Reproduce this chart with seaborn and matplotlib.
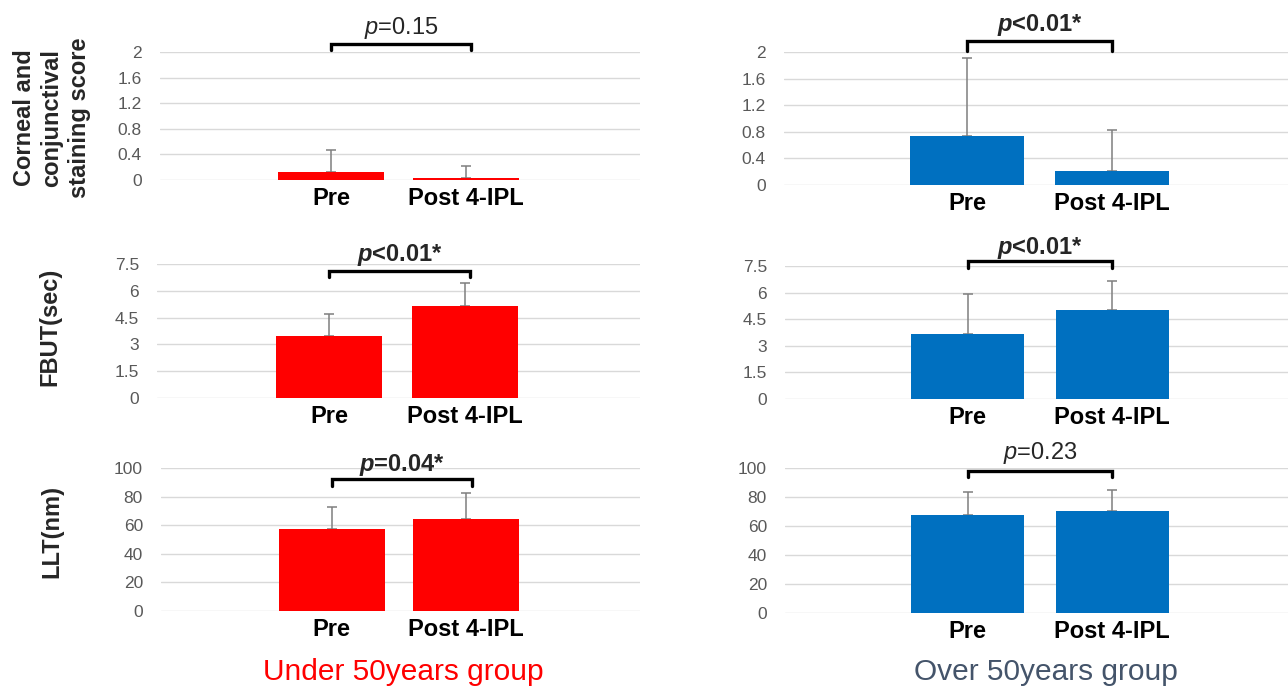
import matplotlib
matplotlib.use("Agg")
import matplotlib.pyplot as plt
import matplotlib.transforms as mtransforms
import seaborn as sns
import pandas as pd

# ---- data -------------------------------------------------------------
conditions = ["Pre", "Post 4-IPL"]
groups = ["Under 50years group", "Over 50years group"]
measures = ["Corneal and\nconjunctival\nstaining score", "FBUT(sec)", "LLT(nm)"]

staining_under = [0.13, 0.03]
staining_under_sd = [0.34, 0.19]
staining_over = [0.74, 0.21]
staining_over_sd = [1.17, 0.62]

fbut_under = [3.47, 5.15]
fbut_under_sd = [1.23, 1.28]
fbut_over = [3.67, 5.02]
fbut_over_sd = [2.25, 1.64]

llt_under = [57.3, 64.3]
llt_under_sd = [15.4, 18.2]
llt_over = [67.6, 70.3]
llt_over_sd = [15.8, 14.5]

p_labels = [["p=0.15", "p<0.01*"],
            ["p<0.01*", "p<0.01*"],
            ["p=0.04*", "p=0.23"]]
p_bold = [[False, True], [True, True], [True, False]]

y_ticks = [[0, 0.4, 0.8, 1.2, 1.6, 2],
           [0, 1.5, 3, 4.5, 6, 7.5],
           [0, 20, 40, 60, 80, 100]]
y_ticklabels = [["0", "0.4", "0.8", "1.2", "1.6", "2"],
                ["0", "1.5", "3", "4.5", "6", "7.5"],
                ["0", "20", "40", "60", "80", "100"]]

values = [[staining_under, staining_over], [fbut_under, fbut_over], [llt_under, llt_over]]
errors = [[staining_under_sd, staining_over_sd], [fbut_under_sd, fbut_over_sd],
          [llt_under_sd, llt_over_sd]]

bar_colors = ["#FF0000", "#0070C0"]
group_colors = ["#FF0000", "#44546A"]

# ---- style ------------------------------------------------------------
sns.set_style("white")
plt.rcParams["font.family"] = ["Liberation Sans", "DejaVu Sans"]
plt.rcParams["mathtext.fontset"] = "custom"
plt.rcParams["mathtext.it"] = "Liberation Sans:italic"
plt.rcParams["mathtext.bf"] = "Liberation Sans:bold"
plt.rcParams["mathtext.bfit"] = "Liberation Sans:bold:italic"
plt.rcParams["mathtext.rm"] = "Liberation Sans"

W, H = 1288, 689
fig = plt.figure(figsize=(W / 100, H / 100), dpi=100)

# panel boxes in pixels: (left, top, right, bottom)
boxes = [[(160, 52, 640, 180), (784, 52, 1288, 185)],
         [(157, 264, 640, 398), (785, 266, 1288, 399)],
         [(161, 468, 640, 611), (785, 468, 1288, 613)]]
xlims = [(-1.267, 2.289), (-1.262, 2.214)]
# bracket geometry in axes fraction: (bar top, end tips, text centre)
brackets = [[(1.062, 1.016, 1.19), (1.083, 1.008, 1.20)],
            [(0.948, 0.905, 1.067), (1.038, 0.985, 1.135)],
            [(0.923, 0.872, 1.02), (0.979, 0.935, 1.10)]]
bracket_x = [(0.0, 1.04), (0.0, 1.0)]

for r in range(3):
    for c in range(2):
        x0, y0, x1, y1 = boxes[r][c]
        ax = fig.add_axes([x0 / W, 1 - y1 / H, (x1 - x0) / W, (y1 - y0) / H])
        df = pd.DataFrame({"condition": conditions, "value": values[r][c]})
        sns.barplot(data=df, x="condition", y="value", order=conditions,
                    color=bar_colors[c], saturation=1, width=0.785,
                    errorbar=None, ax=ax, zorder=3, edgecolor="none")
        ax.errorbar([0, 1], values[r][c],
                    yerr=[[0, 0], errors[r][c]], fmt="none",
                    ecolor="#7F7F7F", elinewidth=1.1, capsize=3.5,
                    capthick=1.1, zorder=2)
        ax.set_xlim(*xlims[c])
        ax.set_ylim(y_ticks[r][0], y_ticks[r][-1])
        ax.set_yticks(y_ticks[r])
        ax.set_yticklabels(y_ticklabels[r])
        ax.yaxis.grid(True, color="#D9D9D9", linewidth=1.0)
        ax.xaxis.grid(False)
        ax.set_axisbelow(True)
        for s in ax.spines.values():
            s.set_visible(False)
        ax.tick_params(axis="y", length=0, pad=13, labelsize=12.5,
                       labelcolor="#595959")
        ax.tick_params(axis="x", length=0, pad=5, labelsize=17,
                       labelcolor="black")
        for lab in ax.get_xticklabels():
            lab.set_fontweight("bold")
        ax.set_xlabel("")
        ax.set_ylabel("")

        # significance bracket
        trans = mtransforms.blended_transform_factory(ax.transData, ax.transAxes)
        top, tip, ty = brackets[r][c]
        bx0, bx1 = bracket_x[c]
        ax.plot([bx0, bx0, bx1, bx1], [tip, top, top, tip], color="black",
                lw=2.4, transform=trans, clip_on=False,
                solid_joinstyle="miter", zorder=5)
        label = p_labels[r][c]
        if p_bold[r][c]:
            txt = r"$\mathbfit{p}$" + label[1:]
            weight = "bold"
        else:
            txt = r"$\mathit{p}$" + label[1:]
            weight = "normal"
        ax.text((bx0 + bx1) / 2, ty, txt, transform=trans, ha="center",
                va="center", fontsize=17, fontweight=weight, clip_on=False)

# measure labels on the left
label_pos = [(52, 118), (50, 327), (52, 532)]
for (lx, ly), name in zip(label_pos, measures):
    fig.text(lx / W, 1 - ly / H, name, rotation=90, ha="center", va="center",
             fontsize=17, fontweight="bold", linespacing=1.25)

# group captions
for gx, g, col in zip([403, 1046], groups, group_colors):
    fig.text(gx / W, 1 - 672 / H, g, ha="center", va="center",
             fontsize=21.5, color=col)

fig.savefig("out.png", dpi=100)
